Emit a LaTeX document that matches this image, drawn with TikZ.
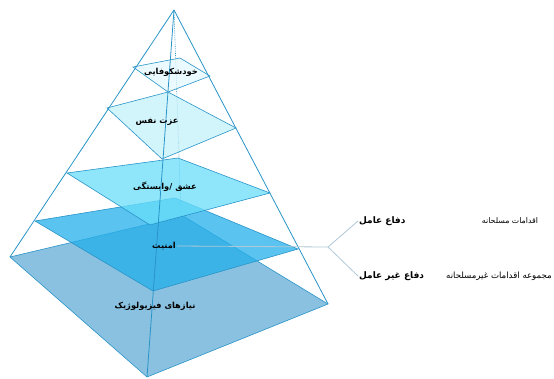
\documentclass[tikz,border=0pt]{standalone}
\usepackage{fontspec}
\newfontfamily\farsi[Script=Arabic]{DejaVu Sans}
\TeXXeTstate=1
\definecolor{pyrline}{RGB}{40,148,200}
\definecolor{leadgray}{RGB}{175,200,215}
\definecolor{floorA}{RGB}{132,190,222}
\definecolor{floorB}{RGB}{35,175,235}
\definecolor{floorC}{RGB}{105,222,250}
\definecolor{floorD}{RGB}{195,240,250}
\definecolor{floorE}{RGB}{228,248,255}
\def\slab[#1](#2)(#3)(#4)(#5){\draw[#1] (#2) -- (#3) -- (#4) -- (#5) -- cycle;}
\tikzset{
	rim/.style={line width=0.8pt, color=pyrline},
	slabfill/.style={rim, line width=0.6pt, fill opacity=0.75},
	tag/.style={font=\farsi\bfseries\fontsize{8.3}{10}\selectfont, inner sep=1pt},
	bigtag/.style={font=\farsi\bfseries\fontsize{9}{10}\selectfont, inner sep=1pt},
	note/.style={font=\farsi\fontsize{7.8}{9}\selectfont, inner sep=1pt},
	widenote/.style={font=\farsi\fontsize{8.6}{9}\selectfont, inner sep=1pt},
	leader/.style={line width=0.8pt, color=leadgray}
}

\begin{document}
\begin{tikzpicture}[x=1pt, y=-1pt]
			%%%%% START %%%%%
			\useasboundingbox (0, 0) rectangle (554, 378);
			
			\coordinate (apex) at (174, 10);
			\draw[rim, densely dotted, line width=0.6pt] (apex) -- (181, 216);
			
			\slab[slabfill, fill=floorA, fill opacity=0.95](10, 257)(183, 216)(328, 304)(147, 377)
			\slab[slabfill, fill=floorB](35, 221)(175, 198)(298, 249)(153, 291)
			\slab[slabfill, fill=floorC](67, 173)(178, 158)(270, 193)(150, 225)
			\slab[slabfill, fill=floorD](107, 108)(168, 92)(236, 128)(162, 159)
			\slab[slabfill, fill=floorE](133, 67)(180, 58)(210, 76)(168, 92)
			
			\draw[rim] (apex) -- (10, 257);
			\draw[rim] (apex) -- (328, 304);
			\draw[rim] (apex) -- (147, 377);
			
			\node[tag] (peak) at (171, 72) {\beginR خودشکوفایی\endR};
			\node[tag] (esteem) at (157, 122) {\beginR عزت نفس\endR};
			\node[tag] (love) at (165, 187) {\beginR عشق /وابستگی\endR};
			\node[tag] (safety) at (164, 246) {\beginR امنیت\endR};
			\node[tag] (body) at (155, 306) {\beginR نیازهای فیزیولوژیک\endR};
			
			\coordinate (fork) at (328, 247);
			\node[bigtag, anchor=west] (active) at (358, 221) {\beginR دفاع عامل\endR};
			\node[bigtag, anchor=west] (passive) at (358, 276) {\beginR دفاع غیر عامل\endR};
			\node[note] (armed) at (510, 221) {\beginR اقدامات مسلحانه\endR};
			\node[widenote, anchor=east] (unarmed) at (553, 276) {\beginR مجموعه اقدامات غیرمسلحانه\endR};
			
			\draw[leader] (safety.east) -- (fork);
			\draw[leader] (fork) -- (active.west);
			\draw[leader] (fork) -- (passive.west);
			%%%%% END %%%%%
		\end{tikzpicture}
\end{document}
